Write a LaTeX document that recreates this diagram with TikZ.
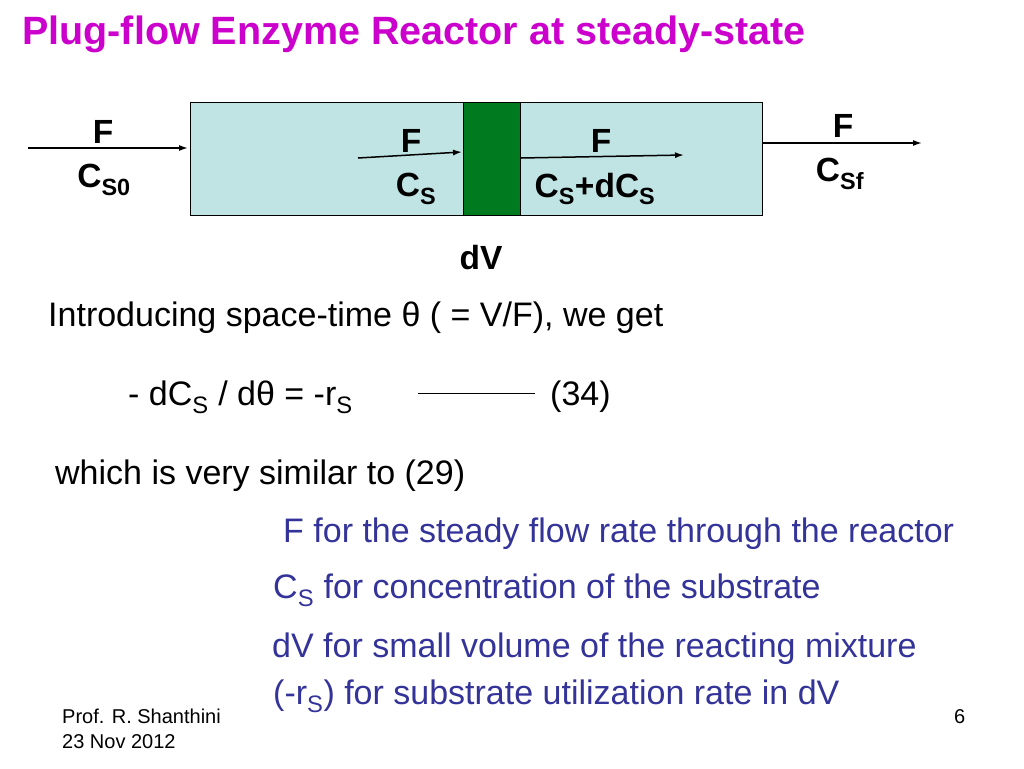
\documentclass[tikz,border=0pt]{standalone}
\usepackage{fontspec}
\usetikzlibrary{arrows.meta}
\setmainfont{Liberation Sans}
\definecolor{ttl}{HTML}{CC00CC}
\definecolor{bl}{HTML}{333399}
\definecolor{cy}{HTML}{C0E4E4}
\definecolor{gr}{HTML}{007A1E}
\begin{document}
\begin{tikzpicture}[x=1pt,y=-1pt,
 lbl/.style={font=\fontsize{33.5}{36}\selectfont\bfseries,inner sep=0},
 txt/.style={font=\fontsize{34}{38}\selectfont,anchor=base west,inner sep=0},
 btxt/.style={txt,text=bl},
 ft/.style={font=\fontsize{20}{22}\selectfont,anchor=base west,inner sep=0},
 arr/.style={-{Latex[length=9pt,width=6pt]},line width=1.5pt}]
\useasboundingbox (0,0) rectangle (1024,768);
\node[anchor=base west,inner sep=0,text=ttl,font=\fontsize{39.5}{42}\selectfont\bfseries] (title) at (22,45) {Plug-flow Enzyme Reactor at steady-state};
\node[draw,fill=cy,minimum width=572,minimum height=113,anchor=north west,inner sep=0] (box) at (190,102) {};
\node[draw,fill=gr,minimum width=57,minimum height=113,anchor=north west,inner sep=0] (dv) at (463,102) {};
\coordinate (l0) at (28,148); \coordinate (l1) at (188,148);
\draw[arr] (l0) -- (l1);
\node[lbl] (f1) at (103,132) {F};
\node[lbl] (c1) at (104,180) {C\textsubscript{S0}};
\coordinate (a0) at (358,158); \coordinate (a1) at (462,152);
\draw[arr] (a0) -- (a1);
\node[lbl] (f2) at (411,141) {F};
\node[lbl] (c2) at (416,189) {C\textsubscript{S}};
\coordinate (b0) at (521,158); \coordinate (b1) at (684,155);
\draw[arr] (b0) -- (b1);
\node[lbl] (f3) at (601,141) {F};
\node[lbl] (c3) at (595,189) {C\textsubscript{S}+dC\textsubscript{S}};
\coordinate (r0) at (762,143); \coordinate (r1) at (922,143);
\draw[arr] (r0) -- (r1);
\node[lbl] (f4) at (843,126) {F};
\node[lbl] (c4) at (840,174) {C\textsubscript{Sf}};
\node[lbl] (dvl) at (481,258) {dV};
\node[txt] (t1) at (48,326) {Introducing space-time θ ( = V/F), we get};
\node[txt] (t2) at (128,405) {- dC\textsubscript{S} / dθ = -r\textsubscript{S}};
\coordinate (m0) at (418,393); \coordinate (m1) at (535,393);
\draw (m0) -- (m1);
\node[txt] (t3) at (550,405) {(34)};
\node[txt] (t4) at (55,484) {which is very similar to (29)};
\node[btxt] (b1t) at (283,542) {F for the steady flow rate through the reactor};
\node[btxt] (b2t) at (273,598) {C\textsubscript{S} for concentration of the substrate};
\node[btxt] (b3t) at (272,657) {dV for small volume of the reacting mixture};
\node[btxt] (b4t) at (273,704) {(-r\textsubscript{S}) for substrate utilization rate in dV};
\node[ft] (p1) at (62,723) {Prof. R. Shanthini};
\node[ft] (p2) at (62,748) {23 Nov 2012};
\node[ft] (pg) at (954,723) {6};
\end{tikzpicture}
\end{document}
